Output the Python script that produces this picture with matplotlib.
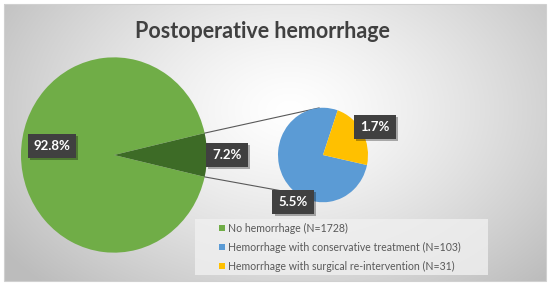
import numpy as np
import matplotlib
matplotlib.use("Agg")
import matplotlib.pyplot as plt
from matplotlib.patches import Rectangle
import matplotlib.patheffects as pe

# ---- data ----
title = "Postoperative hemorrhage"
categories = ["No hemorrhage", "Hemorrhage with conservative treatment",
              "Hemorrhage with surgical re-intervention"]
counts = [1728, 103, 31]
colors = ["#70AD47", "#5B9BD5", "#FFC000"]
other_color = "#3D6B26"

W, H = 550, 285
SY = 1.05  # vertical stretch of the original picture

def Y(ypx):
    return (H - ypx) / SY

fig = plt.figure(figsize=(W / 100, H / 100), dpi=100)
ax = fig.add_axes([0, 0, 1, 1])

# background: radial gradient inside frame
x0, x1, y0, y1 = 4, 546, 4, 281
gx = np.linspace(x0, x1, 300)
gy = np.linspace(y0, y1, 160)
GX, GY = np.meshgrid(gx, gy)
d = np.sqrt(((GX - 290) / 330) ** 2 + ((GY - 110) / 230) ** 2)
val = np.clip(1.0 - 0.24 * d ** 1.3, 0.74, 1.0)
img = np.dstack([val, val, val])
ax.imshow(img, extent=(x0, x1, Y(y1), Y(y0)), origin="upper", aspect="auto",
          zorder=0, interpolation="bilinear")
ax.add_patch(Rectangle((x0, Y(y1)), x1 - x0, Y(y0) - Y(y1), fill=False,
                       edgecolor="#d0d0d0", lw=0.8, zorder=1))

total = sum(counts)
other = counts[1] + counts[2]

# main pie
big_c = (114, Y(155))
big_r = 93
other_frac = other / total
start = 180 * other_frac  # center the "other" wedge at 0 deg
ax.pie([counts[0], other], colors=[colors[0], other_color], startangle=start,
       center=big_c, radius=big_r, frame=True,
       wedgeprops=dict(linewidth=0, zorder=2))

# secondary pie
small_c = (323, Y(155))
small_r = 45
ax.pie([counts[1], counts[2]], colors=[colors[1], colors[2]], startangle=71,
       center=small_c, radius=small_r, frame=True,
       wedgeprops=dict(linewidth=0, zorder=2))

ax.set_xlim(0, W)
ax.set_ylim(0, H / SY)
ax.set_aspect("auto")
ax.axis("off")

# connector lines
ang = np.deg2rad(180 * other_frac)
p_top = (big_c[0] + big_r * np.cos(ang), big_c[1] + big_r * np.sin(ang))
p_bot = (big_c[0] + big_r * np.cos(-ang), big_c[1] + big_r * np.sin(-ang))
a2 = np.deg2rad(95)
a3 = np.deg2rad(-125)
q_top = (small_c[0] + small_r * np.cos(a2), small_c[1] + small_r * np.sin(a2))
q_bot = (small_c[0] + small_r * np.cos(a3), small_c[1] + small_r * np.sin(a3))
ax.plot([p_top[0], q_top[0]], [p_top[1], q_top[1]], color="#595959", lw=0.8, zorder=1.5)
ax.plot([p_bot[0], q_bot[0]], [p_bot[1], q_bot[1]], color="#595959", lw=0.8, zorder=1.5)

# data labels
def pct(v):
    return f"{100 * v / total:.1f}%"

labels = [(pct(counts[0]), 52, 146), (pct(other), 227, 155),
          (pct(counts[2]), 375, 127), (pct(counts[1]), 293, 202)]
for txt, lx, ly in labels:
    t = ax.text(lx, Y(ly), txt, ha="center", va="center", fontsize=9.5,
                fontfamily="Lato", fontweight="bold", color="white", zorder=5,
                bbox=dict(boxstyle="square,pad=0.45", fc="#404040", ec="none"))
    t.get_bbox_patch().set_path_effects(
        [pe.SimplePatchShadow(offset=(1.5, -1.5), shadow_rgbFace="black", alpha=0.3),
         pe.Normal()])

# title
ax.text(262, Y(32), title, ha="center", va="center", fontsize=15.5,
        fontfamily="Lato", fontweight="bold", color="#404040", zorder=5)

# legend
ax.add_patch(Rectangle((195, Y(275)), 293, Y(219) - Y(275), fc="#f0f0f0",
                       ec="none", alpha=0.8, zorder=3))
leg_y = [228, 247, 266]
for cat, n, col, yy in zip(categories, counts, colors, leg_y):
    ax.add_patch(Rectangle((219, Y(yy) - 2.6), 5.5, 5.5, fc=col,
                           ec="none", zorder=4))
    ax.text(228, Y(yy), f"{cat} (N={n})", ha="left", va="center", fontsize=7.6,
            fontfamily="Lato", color="#595959", zorder=5)

fig.savefig("out.png", dpi=100, facecolor="white")
